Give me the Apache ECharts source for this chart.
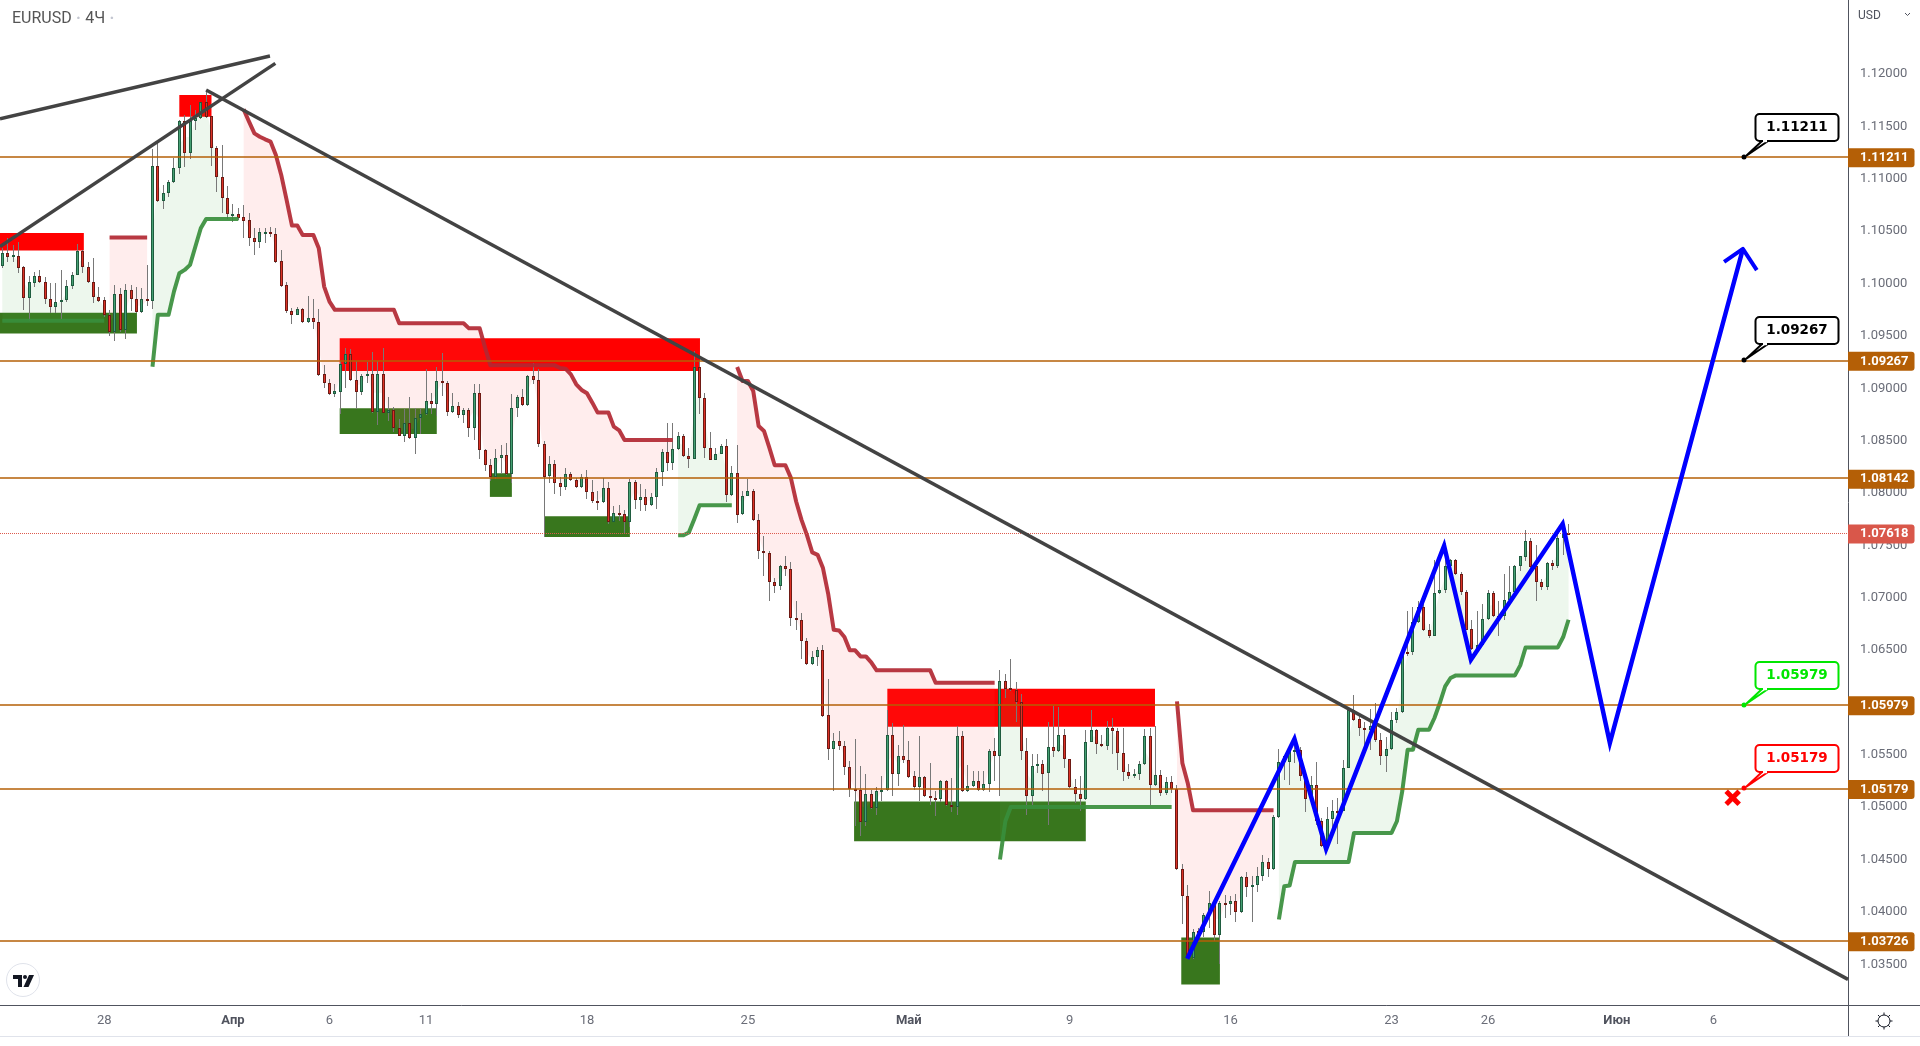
<!DOCTYPE html>
<html>
<head>
<meta charset="utf-8">
<title>EURUSD 4Ч</title>
<script src="https://cdn.jsdelivr.net/npm/echarts@6/dist/echarts.min.js"></script>
<style>
  html, body { margin: 0; padding: 0; background: #fff; }
  #chart { width: 1920px; height: 1046px; }
</style>
</head>
<body>
<div id="chart"></div>
<script>
// ===== Data =====

const opens = [
  1.10172,1.10289,1.10251,1.10267,1.10156,1.09860,1.10009,1.10070,1.10019,1.09850,
  1.09774,1.09822,1.09847,1.09974,1.10079,1.10308,1.10156,1.10019,1.09869,1.09841,
  1.09698,1.09536,1.09898,1.09561,1.09936,1.09850,1.09726,1.09850,1.09838,1.11119,
  1.10792,1.10862,1.10967,1.11100,1.11548,1.11243,1.11555,1.11577,1.11733,1.11596,
  1.11291,1.11014,1.10814,1.10658,1.10661,1.10633,1.10604,1.10432,1.10394,1.10486,
  1.10490,1.10470,1.10213,1.09984,1.09736,1.09704,1.09755,1.09637,1.09669,1.09637,
  1.09140,1.09054,1.08946,1.08965,1.09229,1.09330,1.09082,1.08965,1.09117,1.09140,
  1.08774,1.09140,1.08764,1.08796,1.08621,1.08545,1.08672,1.08526,1.08720,1.08755,
  1.08882,1.08850,1.09073,1.09054,1.08777,1.08834,1.08745,1.08796,1.08621,1.08958,
  1.08415,1.08272,1.08157,1.08338,1.08367,1.08186,1.08815,1.08920,1.08838,1.09121,
  1.09082,1.08472,1.08160,1.08281,1.08100,1.08058,1.08186,1.08128,1.08062,1.08154,
  1.08014,1.07928,1.07912,1.08052,1.07728,1.07814,1.07795,1.07728,1.08109,1.07938,
  1.07966,1.07887,1.07966,1.08205,1.08396,1.08287,1.08421,1.08548,1.08357,1.08329,
  1.09206,1.08911,1.08434,1.08319,1.08376,1.08453,1.07985,1.08195,1.07795,1.07976,
  1.08023,1.07747,1.07445,1.07429,1.07150,1.07108,1.07302,1.07274,1.06806,1.06787,
  1.06587,1.06364,1.06434,1.06501,1.05881,1.05556,1.05633,1.05582,1.05385,1.05178,
  1.05165,1.04860,1.05127,1.04994,1.05153,1.05165,1.05690,1.05315,1.05490,1.05451,
  1.05299,1.05191,1.05289,1.05108,1.05089,1.05076,1.05251,1.05022,1.05003,1.05680,
  1.05153,1.05200,1.05251,1.05162,1.05219,1.05537,1.05486,1.06205,1.06138,1.06119,
  1.06005,1.05537,1.05105,1.05391,1.05413,1.05324,1.05575,1.05534,1.05690,1.05461,
  1.05194,1.05127,1.05076,1.05623,1.05738,1.05604,1.05582,1.05757,1.05728,1.05518,
  1.05337,1.05296,1.05318,1.05410,1.05680,1.05210,1.05305,1.05137,1.05238,1.05178,
  1.04412,1.04154,1.03563,1.03814,1.03811,1.03973,1.04087,1.03779,1.04087,1.04078,
  1.04106,1.04001,1.04335,1.04240,1.04259,1.04342,1.04478,1.04412,1.04908,1.05432,
  1.05432,1.05534,1.05544,1.05296,1.05079,1.05213,1.04869,1.04628,1.04889,1.04968,
  1.04962,1.05375,1.05932,1.05843,1.05757,1.05735,1.05776,1.05642,1.05486,1.05556,
  1.05833,1.05909,1.06479,1.06479,1.06768,1.06911,1.06692,1.06631,1.07041,1.07070,
  1.07305,1.07359,1.07229,1.07051,1.06701,1.06510,1.06549,1.06797,1.07045,1.06828,
  1.06825,1.06978,1.07051,1.07305,1.07388,1.07541,1.07299,1.07150,1.07099,1.07334,
  1.07299,1.07569,1.07623
];

const closes = [
  1.10289,1.10251,1.10270,1.10152,1.09860,1.10013,1.10070,1.10019,1.09850,1.09774,
  1.09822,1.09847,1.09974,1.10079,1.10308,1.10156,1.10019,1.09869,1.09838,1.09698,
  1.09536,1.09898,1.09558,1.09936,1.09850,1.09726,1.09850,1.09838,1.11119,1.10792,
  1.10862,1.10967,1.11100,1.11548,1.11243,1.11555,1.11577,1.11733,1.11593,1.11291,
  1.11014,1.10814,1.10661,1.10664,1.10629,1.10601,1.10432,1.10394,1.10490,1.10490,
  1.10470,1.10210,1.09981,1.09736,1.09704,1.09755,1.09637,1.09669,1.09637,1.09127,
  1.09051,1.08946,1.08971,1.09235,1.09330,1.09079,1.08965,1.09121,1.09140,1.08774,
  1.09140,1.08768,1.08796,1.08621,1.08548,1.08672,1.08526,1.08720,1.08755,1.08882,
  1.08850,1.09073,1.09051,1.08774,1.08834,1.08745,1.08796,1.08621,1.08958,1.08411,
  1.08268,1.08154,1.08338,1.08367,1.08179,1.08815,1.08920,1.08841,1.09121,1.09082,
  1.08469,1.08154,1.08281,1.08100,1.08062,1.08186,1.08125,1.08062,1.08154,1.08011,
  1.07925,1.07915,1.08052,1.07728,1.07814,1.07791,1.07725,1.08109,1.07938,1.07966,
  1.07887,1.07966,1.08205,1.08396,1.08287,1.08424,1.08548,1.08357,1.08329,1.09206,
  1.08911,1.08434,1.08319,1.08376,1.08453,1.07982,1.08195,1.07791,1.07976,1.08023,
  1.07744,1.07448,1.07423,1.07146,1.07108,1.07302,1.07270,1.06806,1.06784,1.06587,
  1.06364,1.06434,1.06501,1.05874,1.05556,1.05630,1.05582,1.05381,1.05175,1.05162,
  1.04860,1.05127,1.04990,1.05156,1.05168,1.05690,1.05315,1.05490,1.05448,1.05292,
  1.05191,1.05289,1.05108,1.05086,1.05073,1.05251,1.05022,1.05000,1.05680,1.05153,
  1.05203,1.05251,1.05162,1.05222,1.05537,1.05486,1.06205,1.06132,1.06116,1.06002,
  1.05534,1.05105,1.05394,1.05413,1.05321,1.05575,1.05534,1.05690,1.05458,1.05191,
  1.05124,1.05076,1.05623,1.05738,1.05601,1.05582,1.05757,1.05725,1.05515,1.05337,
  1.05296,1.05318,1.05413,1.05680,1.05210,1.05305,1.05137,1.05238,1.05178,1.04412,
  1.04151,1.03563,1.03811,1.03807,1.03973,1.04087,1.03782,1.04087,1.04078,1.04106,
  1.04001,1.04335,1.04240,1.04259,1.04342,1.04478,1.04412,1.04908,1.05432,1.05486,
  1.05534,1.05544,1.05296,1.05079,1.05213,1.04869,1.04628,1.04889,1.04965,1.04962,
  1.05375,1.05932,1.05836,1.05754,1.05735,1.05776,1.05639,1.05486,1.05556,1.05833,
  1.05909,1.06472,1.06460,1.06768,1.06911,1.06688,1.06631,1.07048,1.07073,1.07305,
  1.07363,1.07223,1.07051,1.06695,1.06510,1.06549,1.06797,1.07045,1.06822,1.06819,
  1.06978,1.07054,1.07305,1.07401,1.07541,1.07296,1.07146,1.07099,1.07334,1.07299,
  1.07569,1.07623,1.07618
];

const highs = [
  1.10337,1.10432,1.10369,1.10394,1.10168,1.10073,1.10114,1.10130,1.10067,1.10003,
  1.10003,1.10130,1.10035,1.10114,1.10375,1.10321,1.10210,1.10242,1.09965,1.09869,
  1.09749,1.09987,1.09955,1.09994,1.09987,1.09971,1.09955,1.10178,1.11281,1.11348,
  1.10941,1.10989,1.11196,1.11561,1.11609,1.11704,1.11657,1.11736,1.11831,1.11596,
  1.11316,1.11323,1.10932,1.10760,1.10718,1.10750,1.10671,1.10528,1.10528,1.10528,
  1.10537,1.10528,1.10321,1.10019,1.09765,1.09780,1.09765,1.09882,1.09854,1.09755,
  1.09219,1.09086,1.09038,1.09257,1.09381,1.09372,1.09260,1.09133,1.09251,1.09346,
  1.09260,1.09388,1.08920,1.08825,1.08704,1.08799,1.08920,1.08815,1.08806,1.09181,
  1.08952,1.09200,1.09334,1.09070,1.08952,1.08873,1.08815,1.08815,1.09038,1.09038,
  1.08424,1.08322,1.08418,1.08456,1.08481,1.08942,1.08933,1.08997,1.09130,1.09238,
  1.09181,1.08494,1.08354,1.08313,1.08154,1.08237,1.08202,1.08147,1.08179,1.08217,
  1.08122,1.08020,1.08147,1.08109,1.07877,1.07884,1.07839,1.08138,1.08122,1.08084,
  1.08036,1.07998,1.08237,1.08418,1.08672,1.08666,1.08583,1.08561,1.08434,1.09356,
  1.09260,1.08958,1.08586,1.08434,1.08465,1.08520,1.08259,1.08456,1.08020,1.08138,
  1.08036,1.07795,1.07585,1.07442,1.07188,1.07315,1.07394,1.07344,1.06971,1.06854,
  1.06618,1.06488,1.06529,1.06552,1.06227,1.05709,1.05731,1.05636,1.05439,1.05655,
  1.05391,1.05321,1.05162,1.05194,1.05302,1.05932,1.05804,1.05598,1.05788,1.05630,
  1.05343,1.05684,1.05296,1.05423,1.05153,1.05264,1.05264,1.05280,1.05779,1.05731,
  1.05407,1.05343,1.05343,1.05350,1.05560,1.05661,1.06313,1.06272,1.06418,1.06196,
  1.06081,1.05661,1.05512,1.05512,1.05455,1.05814,1.05970,1.05957,1.05750,1.05461,
  1.05270,1.05302,1.05741,1.05932,1.05747,1.05693,1.05820,1.05852,1.05757,1.05757,
  1.05413,1.05366,1.05439,1.05747,1.05757,1.05773,1.05359,1.05289,1.05302,1.05216,
  1.04462,1.04262,1.03833,1.03849,1.03992,1.04205,1.04119,1.04103,1.04160,1.04151,
  1.04173,1.04348,1.04380,1.04342,1.04427,1.04548,1.04517,1.04930,1.05556,1.05502,
  1.05550,1.05582,1.05575,1.05312,1.05296,1.05429,1.04898,1.05003,1.05073,1.05089,
  1.05455,1.05957,1.06075,1.05884,1.05811,1.05938,1.05995,1.05709,1.05671,1.05906,
  1.05948,1.06498,1.06870,1.06911,1.06971,1.06949,1.06749,1.07363,1.07426,1.07522,
  1.07369,1.07369,1.07242,1.07076,1.06790,1.06876,1.06943,1.07070,1.07061,1.06965,
  1.07229,1.07299,1.07315,1.07401,1.07649,1.07569,1.07506,1.07178,1.07340,1.07363,
  1.07655,1.07696,1.07706
];

const lows = [
  1.10146,1.10210,1.10210,1.10105,1.09749,1.09647,1.09971,1.10009,1.09806,1.09723,
  1.09717,1.09660,1.09828,1.09946,1.10079,1.10105,1.10009,1.09812,1.09819,1.09685,
  1.09501,1.09447,1.09542,1.09469,1.09742,1.09717,1.09717,1.09787,1.09755,1.10782,
  1.10715,1.10830,1.10963,1.11046,1.11116,1.11192,1.11466,1.11568,1.11577,1.11126,
  1.10877,1.10671,1.10614,1.10591,1.10607,1.10432,1.10359,1.10273,1.10337,1.10385,
  1.10442,1.10194,1.09965,1.09723,1.09609,1.09704,1.09628,1.09621,1.09564,1.09116,
  1.08998,1.08939,1.08917,1.08752,1.08998,1.09070,1.08799,1.08936,1.09047,1.08768,
  1.08647,1.08761,1.08688,1.08583,1.08542,1.08488,1.08520,1.08370,1.08561,1.08749,
  1.08752,1.08736,1.08927,1.08736,1.08768,1.08720,1.08666,1.08535,1.08507,1.08322,
  1.08211,1.08116,1.08132,1.08179,1.08170,1.08100,1.08726,1.08831,1.08831,1.09038,
  1.08437,1.07581,1.08093,1.07989,1.07973,1.08027,1.08116,1.08052,1.08052,1.07941,
  1.07903,1.07839,1.07903,1.07709,1.07725,1.07734,1.07623,1.07680,1.07852,1.07830,
  1.07830,1.07877,1.07845,1.08068,1.08211,1.08221,1.08411,1.08348,1.08243,1.08329,
  1.08752,1.08335,1.08313,1.08313,1.08370,1.07915,1.07973,1.07718,1.07788,1.07973,
  1.07734,1.07368,1.07204,1.06971,1.07045,1.07070,1.07210,1.06727,1.06695,1.06418,
  1.06358,1.06355,1.06345,1.05862,1.05455,1.05153,1.05544,1.05312,1.05095,1.04819,
  1.04723,1.04819,1.04984,1.04924,1.05057,1.05153,1.05105,1.05200,1.05423,1.05280,
  1.05168,1.05057,1.05095,1.05025,1.04914,1.05048,1.05016,1.04952,1.04930,1.05146,
  1.05143,1.05194,1.05153,1.05153,1.05146,1.05254,1.05105,1.06043,1.06107,1.05814,
  1.05455,1.04930,1.05025,1.05327,1.05159,1.04835,1.05477,1.05528,1.05372,1.05184,
  1.05041,1.04962,1.05073,1.05620,1.05512,1.05575,1.05550,1.05512,1.05359,1.05254,
  1.05270,1.05280,1.05264,1.05404,1.05025,1.05200,1.05105,1.05121,1.05137,1.04405,
  1.03890,1.03547,1.03547,1.03737,1.03763,1.03849,1.03722,1.03508,1.03944,1.03976,
  1.03903,1.03992,1.04141,1.03903,1.04189,1.04294,1.04332,1.04405,1.04898,1.05257,
  1.05216,1.05423,1.05248,1.04952,1.05057,1.04835,1.04621,1.04612,1.04803,1.04653,
  1.04962,1.05375,1.05820,1.05684,1.05566,1.05550,1.05620,1.05401,1.05334,1.05550,
  1.05804,1.05900,1.06440,1.06450,1.06758,1.06679,1.06615,1.06631,1.07038,1.07045,
  1.07299,1.07216,1.07029,1.06688,1.06498,1.06504,1.06536,1.06784,1.06816,1.06631,
  1.06790,1.06949,1.07045,1.07251,1.07347,1.07283,1.06971,1.07070,1.07070,1.07261,
  1.07283,1.07410,1.07611
];

// supertrend, one value per candle: [first candle, values]
const supportSegments = [
  [0, [1.09644,1.09644,1.09644,1.09644,1.09644,1.09644,1.09644,1.09644,1.09644,1.09644,
       1.09644,1.09644,1.09644,1.09644,1.09644,1.09644,1.09644,1.09644,1.09644,1.09644]],
  [28, [1.09205,1.09701,1.09701,1.09701,1.09923,1.10098,1.10130,1.10178,1.10353,1.10528,1.10617,
        1.10617,1.10617,1.10617,1.10617,1.10617,1.10617]],
  [126, [1.07597,1.07597,1.07623,1.07750,1.07884,1.07884,1.07884,1.07884,1.07884,1.07884,1.07884]],
  [186, [1.04501,1.04866,1.05003,1.05003,1.05003,1.05003,1.05003,1.05003,1.05003,1.05003,1.05003,
         1.05003,1.05003,1.05003,1.05003,1.05003,1.05003,1.05003,1.05003,1.05003,1.05003,1.05003,
         1.05003,1.05003,1.05003,1.05003,1.05003,1.05003,1.05003,1.05003,1.05003,1.05003,1.05003]],
  [238, [1.03928,1.04246,1.04253,1.04478,1.04478,1.04478,1.04478,1.04478,1.04478,1.04478,1.04478,
         1.04478,1.04478,1.04478,1.04755,1.04755,1.04755,1.04755,1.04755,1.04755,1.04755,1.04755,
         1.04866,1.05153,1.05550,1.05550,1.05741,1.05741,1.05741,1.05852,1.05995,1.06154,1.06234,
         1.06259,1.06259,1.06259,1.06259,1.06259,1.06259,1.06259,1.06259,1.06259,1.06259,1.06259,
         1.06259,1.06355,1.06526,1.06526,1.06526,1.06526,1.06526,1.06526,1.06526,1.06625,1.06790]]
];

const resistanceSegments = [
  [20, [1.10439,1.10439,1.10439,1.10439,1.10439,1.10439,1.10439,1.10439]],
  [45, [1.11663,1.11545,1.11434,1.11402,1.11377,1.11355,1.11227,1.11037,1.10798,1.10553,1.10553,
        1.10464,1.10464,1.10464,1.10337,1.09971,1.09828,1.09749,1.09749,1.09749,1.09749,1.09749,
        1.09749,1.09749,1.09749,1.09749,1.09749,1.09749,1.09749,1.09621,1.09621,1.09621,1.09621,
        1.09621,1.09621,1.09621,1.09621,1.09621,1.09621,1.09621,1.09621,1.09621,1.09572,1.09572,
        1.09572,1.09388,1.09219,1.09219,1.09219,1.09219,1.09219,1.09219,1.09219,1.09219,1.09219,
        1.09219,1.09219,1.09219,1.09219,1.09194,1.09187,1.09133,1.09038,1.08984,1.08952,1.08863,
        1.08768,1.08768,1.08768,1.08634,1.08599,1.08507,1.08507,1.08507,1.08507,1.08507,1.08507,
        1.08507,1.08507,1.08507,1.08507]],
  [137, [1.09203,1.09070,1.09070,1.08974,1.08640,1.08593,1.08434,1.08265,1.08265,1.08265,1.08147,
         1.07919,1.07744,1.07601,1.07433,1.07410,1.07283,1.07029,1.06695,1.06688,1.06625,1.06498,
         1.06498,1.06440,1.06440,1.06383,1.06307,1.06307,1.06307,1.06307,1.06307,1.06307,1.06307,
         1.06307,1.06307,1.06307,1.06307,1.06189,1.06189,1.06189,1.06189,1.06189,1.06189,1.06189,
         1.06189,1.06189,1.06189,1.06189,1.06189]],
  [219, [1.06011,1.05423,1.05232,1.04971,1.04971,1.04971,1.04971,1.04971,1.04971,1.04971,1.04971,
         1.04971,1.04971,1.04971,1.04971,1.04971,1.04971,1.04971,1.04971]]
];

// supply / demand boxes: [from candle, to candle, upper price, lower price]
const redZones = [
  [-1, 15.2, 1.10483, 1.10315],
  [33, 39, 1.11800, 1.11593],
  [62.9, 130.07, 1.09477, 1.09165],
  [165, 214.9, 1.06132, 1.05769]
];
const greenZones = [
  [-1, 25.1, 1.09720, 1.09523],
  [62.9, 81, 1.08809, 1.08564],
  [90.9, 95, 1.08189, 1.07963],
  [101.1, 117, 1.07779, 1.07581],
  [158.8, 202, 1.05054, 1.04676],
  [219.8, 227, 1.03756, 1.03308]
];

const levels = [1.11211, 1.09267, 1.08142, 1.05979, 1.05179, 1.03726];
const lastPrice = 1.07618;

const trendLineA = [[-0.43, 1.11574], [49.9, 1.12172]];
const trendLineB = [[-0.43, 1.10353], [50.9, 1.12102]];
const trendLineC = [[38, 1.11847], [344.1, 1.03357]];

const forecastPath = [
  [220.9, 1.03553], [240.9, 1.05652], [246.8, 1.04602], [268.8, 1.07496],
  [273.8, 1.06409], [290.9, 1.07706], [299.7, 1.05613], [324.5, 1.10330]
];
const forecastArrow = [[321, 1.10206], [324.5, 1.10330], [327.1, 1.10129]];

const calloutCandle = 324.7;
const calloutPrices = [1.11211, 1.09267, 1.05979, 1.05179];
const calloutColors = ['#000000', '#000000', '#00e600', '#ff0000'];
const invalidMark = [322.6, 1.05091];

const priceTicks = [1.035, 1.04, 1.045, 1.05, 1.055, 1.06, 1.065, 1.07, 1.075, 1.08, 1.085,
  1.09, 1.095, 1.1, 1.105, 1.11, 1.115, 1.12, 1.125];
const timeTickCandles = [19, 43, 61, 79, 109, 139, 169, 199, 229, 259, 277, 301, 319];
const timeTickLabels = ['28', 'Апр', '6', '11', '18', '25', 'Май', '9', '16', '23', '26', 'Июн', '6'];
const monthLabels = ['Апр', 'Май', 'Июн'];

// ===== Chart =====

const FONT = 'Roboto, "Liberation Sans", sans-serif';
const LEVEL_COLOR = '#b45f06';

const candleData = opens.map((o, i) => [i, o, closes[i], lows[i], highs[i]]);

function renderCandle(params, api) {
  const o = api.value(1), c = api.value(2);
  const up = c >= o;
  const col = Math.floor(api.coord([api.value(0), o])[0]);
  const top = Math.round(api.coord([0, Math.max(o, c)])[1]);
  const bottom = Math.round(api.coord([0, Math.min(o, c)])[1]);
  const hi = Math.round(api.coord([0, api.value(4)])[1]);
  const lo = Math.round(api.coord([0, api.value(3)])[1]);
  const h = Math.max(bottom - top, 2);
  const children = [
    { type: 'rect', shape: { x: col, y: hi, width: 1, height: lo - hi }, style: { fill: '#787878' } },
    { type: 'rect', shape: { x: col - 1, y: top, width: 3, height: h }, style: { fill: up ? '#1f5c3f' : '#6e1a14' } }
  ];
  if (h > 2) {
    children.push({
      type: 'rect',
      shape: { x: col, y: top + 1, width: 1, height: h - 2 },
      style: { fill: up ? '#45a073' : '#dc3226' }
    });
  }
  return { type: 'group', children };
}

function zoneSeries(zones, color) {
  return {
    type: 'custom',
    z: 1,
    silent: true,
    data: zones,
    encode: { x: 0, y: 2 },
    renderItem(params, api) {
      const a = api.coord([api.value(0), api.value(2)]);
      const b = api.coord([api.value(1), api.value(3)]);
      return {
        type: 'rect',
        shape: { x: a[0], y: a[1], width: b[0] - a[0], height: b[1] - a[1] },
        style: { fill: color }
      };
    }
  };
}

// pale band between the supertrend and the middle of each candle body
function fillSeries(segments, color) {
  return {
    type: 'custom',
    z: 2,
    silent: true,
    data: segments.map((s, i) => [s[0], i]),
    encode: { x: 0 },
    renderItem(params, api) {
      const seg = segments[params.dataIndex];
      const line = [], mids = [];
      seg[1].forEach((v, k) => {
        const i = seg[0] + k;
        line.push(api.coord([i, v]));
        mids.unshift(api.coord([i, (opens[i] + closes[i]) / 2]));
      });
      return {
        type: 'polygon',
        shape: { points: line.concat(mids) },
        style: { fill: color }
      };
    }
  };
}

function trendSeries(segments, color) {
  return segments.map(seg => ({
    type: 'line',
    z: 4,
    silent: true,
    showSymbol: false,
    animation: false,
    data: seg[1].map((v, k) => [seg[0] + k, v]),
    lineStyle: { color, width: 4, opacity: 0.92, join: 'round' }
  }));
}

function drawnLine(points, color, width, z) {
  return {
    type: 'line',
    z,
    silent: true,
    showSymbol: false,
    animation: false,
    data: points,
    lineStyle: { color, width, cap: 'butt', join: 'miter' }
  };
}

function renderCallout(params, api) {
  const color = calloutColors[params.dataIndex];
  const p = api.coord([api.value(0), api.value(1)]);
  const x = Math.round(p[0]), y = Math.round(p[1]);
  return {
    type: 'group',
    children: [
      {
        type: 'rect',
        shape: { x: x + 11.5, y: y - 43, width: 83, height: 27, r: 4 },
        style: { fill: '#fff', stroke: color, lineWidth: 2 }
      },
      {
        type: 'polygon',
        shape: { points: [[x + 2, y - 1], [x + 18, y - 16], [x + 24, y - 16]] },
        style: { fill: '#fff', stroke: color, lineWidth: 2 }
      },
      {
        type: 'line',
        shape: { x1: x + 19, y1: y - 16, x2: x + 23, y2: y - 16 },
        style: { stroke: '#fff', lineWidth: 2.4 }
      },
      { type: 'circle', shape: { cx: x, cy: y, r: 2.5 }, style: { fill: color } },
      {
        type: 'text',
        style: {
          x: x + 53, y: y - 29.5,
          text: api.value(1).toFixed(5),
          fill: color,
          align: 'center',
          verticalAlign: 'middle',
          font: 'bold 13.5px "DejaVu Sans", sans-serif'
        }
      }
    ]
  };
}

function renderCross(params, api) {
  const p = api.coord([api.value(0), api.value(1)]);
  const s = 6.5;
  const style = { stroke: '#ff0000', lineWidth: 5 };
  return {
    type: 'group',
    children: [
      { type: 'line', shape: { x1: p[0] - s, y1: p[1] - s, x2: p[0] + s, y2: p[1] + s }, style },
      { type: 'line', shape: { x1: p[0] - s, y1: p[1] + s, x2: p[0] + s, y2: p[1] - s }, style }
    ]
  };
}

function levelLabel(bg) {
  return {
    show: true,
    position: 'end',
    distance: 0,
    offset: [0, 1],
    formatter: p => p.value.toFixed(5),
    color: '#fff',
    backgroundColor: bg,
    fontFamily: FONT,
    fontSize: 13,
    fontWeight: 'bold',
    padding: [3, 6, 3, 12],
    borderRadius: [0, 3, 3, 0]
  };
}

const gearTicks = [0, 45, 90, 135, 180, 225, 270, 315].map(a => {
  const r = a * Math.PI / 180;
  return {
    type: 'line',
    z: 100,
    shape: {
      x1: 1884 + 6 * Math.cos(r), y1: 1021 + 6 * Math.sin(r),
      x2: 1884 + 8.5 * Math.cos(r), y2: 1021 + 8.5 * Math.sin(r)
    },
    style: { stroke: '#131722', lineWidth: 1 }
  };
});

const myChart = echarts.init(document.getElementById('chart'), null, { renderer: 'canvas' });

myChart.setOption({
  animation: false,
  backgroundColor: '#fff',
  grid: { left: 0, right: 72, top: 0, bottom: 41 },
  xAxis: {
    type: 'value',
    min: -0.43,
    max: 344.1,
    splitLine: { show: false },
    axisLine: { onZero: false, lineStyle: { color: '#50535e', width: 1 } },
    axisTick: { show: false },
    axisLabel: {
      customValues: timeTickCandles,
      margin: 9,
      color: '#6a6d78',
      fontFamily: FONT,
      fontSize: 13,
      formatter(v) {
        const text = timeTickLabels[timeTickCandles.indexOf(v)];
        return monthLabels.includes(text) ? '{m|' + text + '}' : text;
      },
      rich: { m: { fontWeight: 'bold', color: '#50535e', fontFamily: FONT, fontSize: 13 } }
    }
  },
  yAxis: {
    type: 'value',
    position: 'right',
    min: 1.03112,
    max: 1.12707,
    scale: true,
    splitLine: { show: false },
    axisLine: { show: true, onZero: false, lineStyle: { color: '#50535e', width: 1 } },
    axisTick: { show: false },
    axisLabel: {
      customValues: priceTicks,
      margin: 12,
      padding: [2, 0, 0, 0],
      color: '#6a6d78',
      fontFamily: FONT,
      fontSize: 13,
      formatter: v => v.toFixed(5)
    }
  },
  series: [
    zoneSeries(redZones, '#ff0000'),
    zoneSeries(greenZones, '#38761d'),
    fillSeries(supportSegments, 'rgba(76, 175, 80, 0.10)'),
    fillSeries(resistanceSegments, 'rgba(255, 82, 82, 0.10)'),
    {
      type: 'custom',
      name: 'EURUSD',
      z: 3,
      silent: true,
      data: candleData,
      encode: { x: 0, y: [1, 2, 3, 4] },
      renderItem: renderCandle
    },
    ...trendSeries(supportSegments, '#388e3c'),
    ...trendSeries(resistanceSegments, '#b22833'),
    {
      type: 'line',
      z: 5,
      silent: true,
      data: [],
      markLine: {
        silent: true,
        animation: false,
        precision: 5,
        symbol: ['none', 'none'],
        lineStyle: { color: LEVEL_COLOR, width: 1.5, type: 'solid' },
        label: levelLabel(LEVEL_COLOR),
        data: levels.map(v => ({ yAxis: v }))
      }
    },
    {
      type: 'line',
      z: 5,
      silent: true,
      data: [],
      markLine: {
        silent: true,
        animation: false,
        precision: 5,
        symbol: ['none', 'none'],
        lineStyle: { color: '#dd5a4c', width: 1, type: 'dotted' },
        label: levelLabel('#d9574a'),
        data: [{ yAxis: lastPrice }]
      }
    },
    drawnLine(trendLineA, '#434343', 3.5, 6),
    drawnLine(trendLineB, '#434343', 3.5, 6),
    drawnLine(trendLineC, '#434343', 3.5, 6),
    drawnLine(forecastPath, '#0000ff', 4.5, 7),
    {
      type: 'line',
      z: 7,
      silent: true,
      showSymbol: false,
      animation: false,
      data: forecastArrow,
      lineStyle: { color: '#0000ff', width: 4, join: 'round' }
    },
    {
      type: 'custom',
      z: 8,
      silent: true,
      clip: false,
      data: calloutPrices.map(v => [calloutCandle, v]),
      encode: { x: 0, y: 1 },
      renderItem: renderCallout
    },
    {
      type: 'custom',
      z: 8,
      silent: true,
      data: [invalidMark],
      encode: { x: 0, y: 1 },
      renderItem: renderCross
    }
  ],
  graphic: { elements: [
    // the scale's top label slides under the currency button
    { type: 'rect', z: 100, shape: { x: 1849, y: 0, width: 71, height: 25 }, style: { fill: '#fff' } },
    {
      type: 'text', z: 101, x: 1858, y: 10,
      style: { text: 'USD', fill: '#50535e', font: '12px ' + FONT }
    },
    {
      type: 'polyline', z: 101,
      shape: { points: [[1905, 13], [1907.5, 15.5], [1910, 13]] },
      style: { stroke: '#50535e', lineWidth: 1, fill: null }
    },
    {
      type: 'text', z: 101, x: 12, y: 11,
      style: {
        text: '{a|EURUSD} {b|·} {a|4Ч} {b|·}',
        rich: {
          a: { fill: '#555', font: '16px ' + FONT },
          b: { fill: '#c3c6d0', font: 'bold 16px ' + FONT, padding: [0, 1] }
        }
      }
    },
    // logo badge
    {
      type: 'circle', z: 100,
      shape: { cx: 23, cy: 980, r: 16.5 },
      style: { fill: '#fff', stroke: '#e0e3eb', lineWidth: 1 }
    },
    {
      type: 'polygon', z: 101,
      shape: { points: [[13, 975], [22, 975], [22, 987], [18, 987], [18, 979], [13, 979]] },
      style: { fill: '#131722' }
    },
    { type: 'circle', z: 101, shape: { cx: 25, cy: 977, r: 2 }, style: { fill: '#131722' } },
    {
      type: 'polygon', z: 101,
      shape: { points: [[29, 975], [34, 975], [28.5, 987], [23.5, 987]] },
      style: { fill: '#131722' }
    },
    // frame bits outside the plot
    { type: 'line', z: 100, shape: { x1: 1848.5, y1: 1005, x2: 1848.5, y2: 1036 }, style: { stroke: '#50535e', lineWidth: 1 } },
    { type: 'line', z: 100, shape: { x1: 1848, y1: 1005.5, x2: 1920, y2: 1005.5 }, style: { stroke: '#50535e', lineWidth: 1 } },
    { type: 'line', z: 100, shape: { x1: 0, y1: 1036.5, x2: 1920, y2: 1036.5 }, style: { stroke: '#e0e3eb', lineWidth: 1 } },
    { type: 'circle', z: 100, shape: { cx: 1884, cy: 1021, r: 6 }, style: { fill: '#fff', stroke: '#131722', lineWidth: 1 } },
    ...gearTicks
  ] }
});
</script>
</body>
</html>
